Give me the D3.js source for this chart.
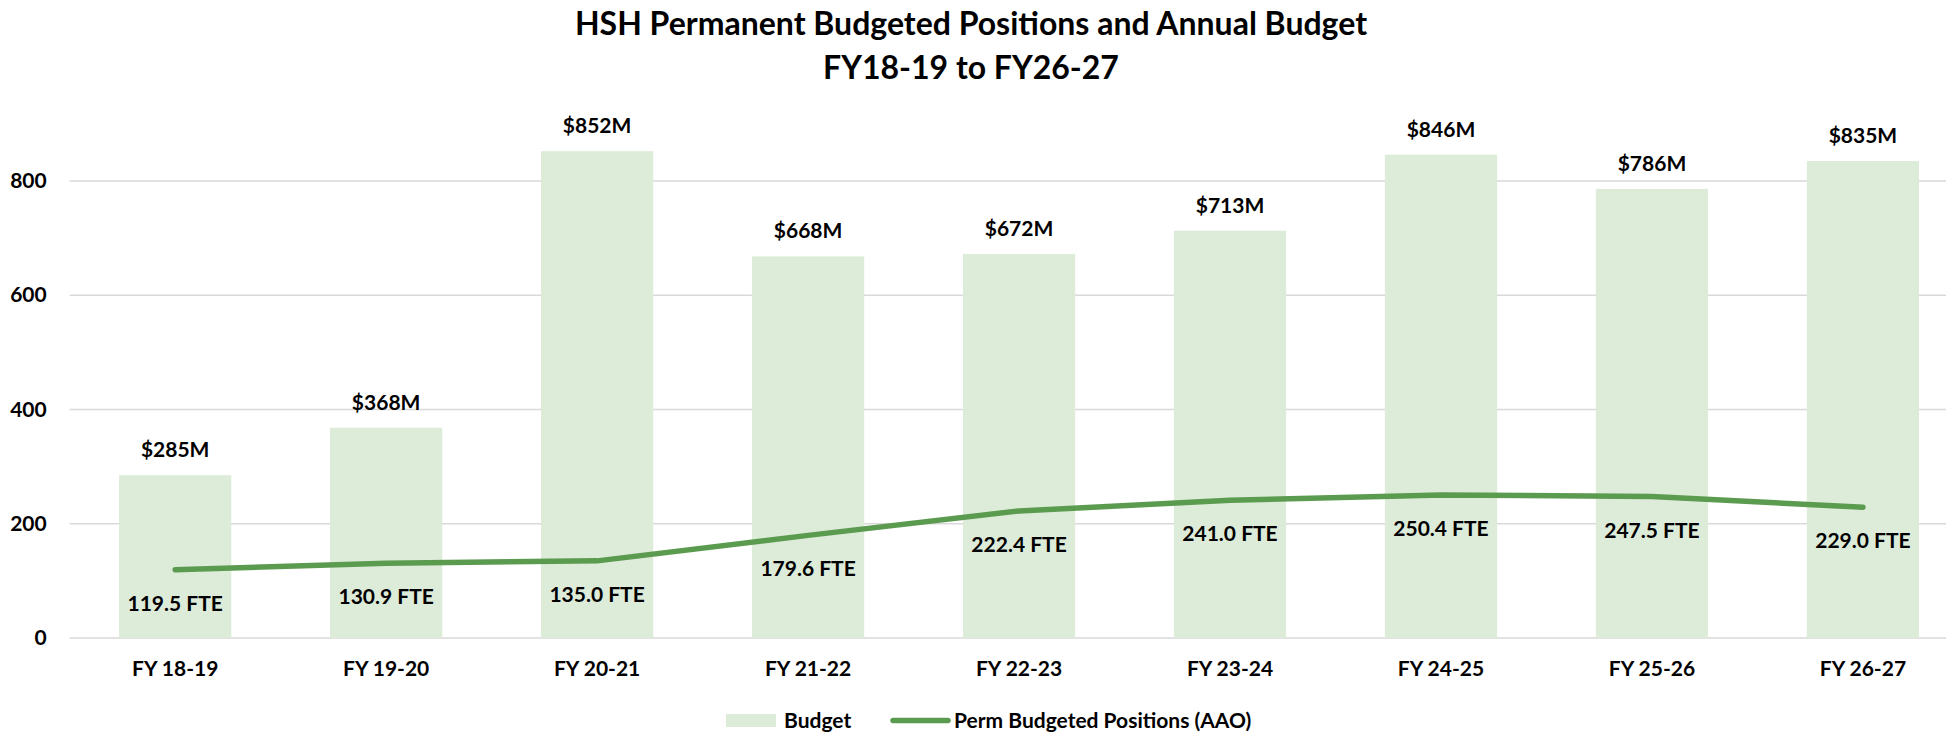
<!DOCTYPE html>
<html>
<head>
<meta charset="utf-8">
<script src="https://cdn.jsdelivr.net/npm/d3@7"></script>
<style>
  html, body { margin: 0; padding: 0; background: #ffffff; }
  svg { display: block; font-family: Lato, "Open Sans", sans-serif; font-weight: bold; }
</style>
</head>
<body>
<script>
var years = ["FY 18-19", "FY 19-20", "FY 20-21", "FY 21-22", "FY 22-23", "FY 23-24", "FY 24-25", "FY 25-26", "FY 26-27"];
var budget = [285, 368, 852, 668, 672, 713, 846, 786, 835];
var budgetLabels = ["$285M", "$368M", "$852M", "$668M", "$672M", "$713M", "$846M", "$786M", "$835M"];
var positions = [119.5, 130.9, 135.0, 179.6, 222.4, 241.0, 250.4, 247.5, 229.0];
var yTicks = [0, 200, 400, 600, 800];

var width = 1946, height = 734;

var svg = d3.select("body").append("svg")
  .attr("width", width)
  .attr("height", height);

var x = d3.scaleBand()
  .domain(years)
  .range([69.7, 1968.4])
  .paddingInner(0.468)
  .paddingOuter(0.234);

var y = d3.scaleLinear()
  .domain([0, 900])
  .range([638, 123.8]);

// title
svg.append("text")
  .attr("x", 971).attr("y", 35)
  .attr("text-anchor", "middle")
  .style("font-size", "32px")
  .text("HSH Permanent Budgeted Positions and Annual Budget");
svg.append("text")
  .attr("x", 971).attr("y", 79)
  .attr("text-anchor", "middle")
  .style("font-size", "32px")
  .text("FY18-19 to FY26-27");

// gridlines
svg.append("g")
  .selectAll("line")
  .data(yTicks)
  .enter().append("line")
    .attr("x1", 69.7).attr("x2", width)
    .attr("y1", function(d) { return y(d); })
    .attr("y2", function(d) { return y(d); })
    .style("stroke", "#d9d9d9")
    .style("stroke-width", 1.5);

// y axis labels
var yAxis = svg.append("g")
  .attr("transform", "translate(69.7,0)")
  .call(d3.axisLeft(y).tickValues(yTicks).tickSize(0).tickPadding(23));
yAxis.select(".domain").remove();
yAxis.selectAll("text")
  .style("font-family", "Lato, sans-serif")
  .style("font-weight", "bold")
  .style("font-size", "21px")
  .style("fill", "#000");

// bars
svg.append("g")
  .selectAll("rect")
  .data(budget)
  .enter().append("rect")
    .attr("x", function(d, i) { return x(years[i]); })
    .attr("width", x.bandwidth())
    .attr("y", function(d) { return y(d); })
    .attr("height", function(d) { return y(0) - y(d); })
    .style("fill", "#ddebd9");

// x axis
var xAxis = svg.append("g")
  .attr("transform", "translate(0," + y(0) + ")")
  .call(d3.axisBottom(x).tickSize(0).tickPadding(23));
xAxis.select(".domain").remove();
xAxis.selectAll("text")
  .style("font-family", "Lato, sans-serif")
  .style("font-weight", "bold")
  .style("font-size", "21px")
  .style("fill", "#000");

// positions line
var line = d3.line()
  .x(function(d, i) { return x(years[i]) + x.bandwidth() / 2; })
  .y(function(d) { return y(d); });

svg.append("path")
  .datum(positions)
  .attr("d", line)
  .style("fill", "none")
  .style("stroke", "#5b9b4f")
  .style("stroke-width", 5.5)
  .style("stroke-linecap", "round")
  .style("stroke-linejoin", "round");

// budget labels
svg.append("g")
  .selectAll("text")
  .data(budget)
  .enter().append("text")
    .attr("x", function(d, i) { return x(years[i]) + x.bandwidth() / 2; })
    .attr("y", function(d) { return y(d) - 18; })
    .attr("text-anchor", "middle")
    .style("font-size", "21px")
    .text(function(d, i) { return budgetLabels[i]; });

// position labels
svg.append("g")
  .selectAll("text")
  .data(positions)
  .enter().append("text")
    .attr("x", function(d, i) { return x(years[i]) + x.bandwidth() / 2; })
    .attr("y", function(d) { return y(d) + 41; })
    .attr("text-anchor", "middle")
    .style("font-size", "21px")
    .text(function(d) { return d.toFixed(1) + " FTE"; });

// legend
var legend = svg.append("g");
legend.append("rect")
  .attr("x", 726).attr("y", 714)
  .attr("width", 50).attr("height", 13)
  .style("fill", "#ddebd9");
legend.append("text")
  .attr("x", 784).attr("y", 728)
  .style("font-size", "21px")
  .text("Budget");
legend.append("line")
  .attr("x1", 893).attr("x2", 948)
  .attr("y1", 720.5).attr("y2", 720.5)
  .style("stroke", "#5b9b4f")
  .style("stroke-width", 5.5)
  .style("stroke-linecap", "round");
legend.append("text")
  .attr("x", 954).attr("y", 728)
  .style("font-size", "21px")
  .text("Perm Budgeted Positions (AAO)");
</script>
</body>
</html>
